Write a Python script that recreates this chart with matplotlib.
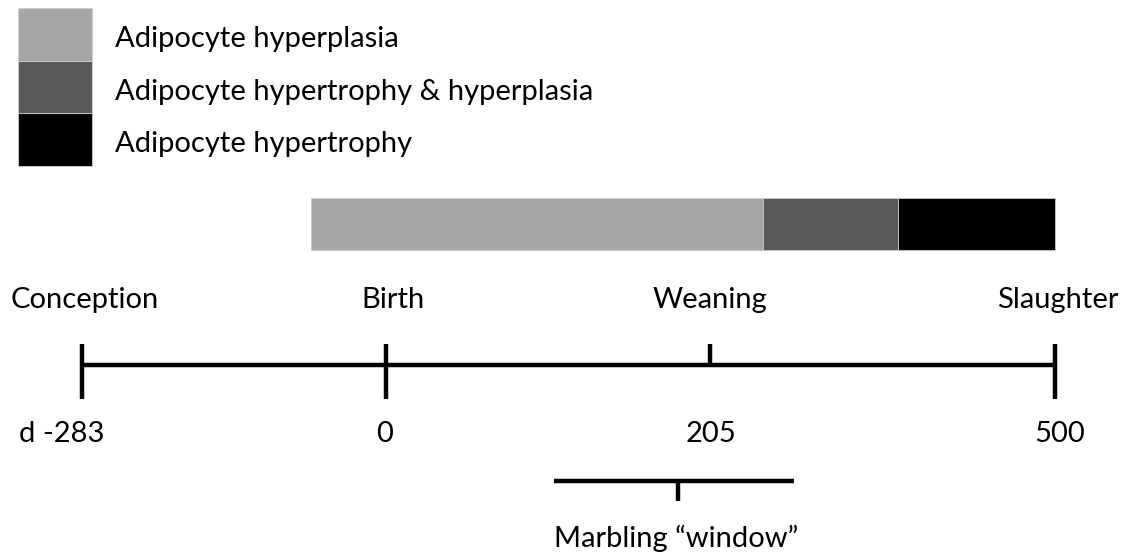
# adipocyte_timeline.py
# Timeline of bovine adipocyte development with phase bar and marbling window.

import numpy as np
import matplotlib
matplotlib.use("Agg")
import matplotlib.pyplot as plt
from matplotlib.patches import Rectangle

# ---- data ----
event_labels = ["Conception", "Birth", "Weaning", "Slaughter"]
event_days = [-283, 0, 205, 500]
day_labels = ["d -283", "0", "205", "500"]
full_tick = [True, True, False, True]

phase_labels = ["Adipocyte hyperplasia",
                "Adipocyte hypertrophy & hyperplasia",
                "Adipocyte hypertrophy"]
phase_start = [-70, 250, 366]
phase_end = [250, 366, 500]
phase_colors = ["#a6a6a6", "#595959", "#000000"]

marbling_start = 106
marbling_end = 277
marbling_mid = 185
marbling_label = "Marbling \u201cwindow\u201d"

# ---- piecewise day -> pixel scale (drawing is not to scale) ----
ANCHOR_PX = np.array([82.0, 386.0, 710.0, 1055.0])
ANCHOR_DAYS = np.array(event_days, dtype=float)
W, H = 1124, 554


def day_to_px(d):
    d = np.asarray(d, dtype=float)
    out = np.interp(d, ANCHOR_DAYS, ANCHOR_PX)
    s0 = (ANCHOR_PX[1] - ANCHOR_PX[0]) / (ANCHOR_DAYS[1] - ANCHOR_DAYS[0])
    s1 = (ANCHOR_PX[-1] - ANCHOR_PX[-2]) / (ANCHOR_DAYS[-1] - ANCHOR_DAYS[-2])
    out = np.where(d < ANCHOR_DAYS[0], ANCHOR_PX[0] + (d - ANCHOR_DAYS[0]) * s0, out)
    out = np.where(d > ANCHOR_DAYS[-1], ANCHOR_PX[-1] + (d - ANCHOR_DAYS[-1]) * s1, out)
    return out


def px_to_day(p):
    p = np.asarray(p, dtype=float)
    out = np.interp(p, ANCHOR_PX, ANCHOR_DAYS)
    s0 = (ANCHOR_DAYS[1] - ANCHOR_DAYS[0]) / (ANCHOR_PX[1] - ANCHOR_PX[0])
    s1 = (ANCHOR_DAYS[-1] - ANCHOR_DAYS[-2]) / (ANCHOR_PX[-1] - ANCHOR_PX[-2])
    out = np.where(p < ANCHOR_PX[0], ANCHOR_DAYS[0] + (p - ANCHOR_PX[0]) * s0, out)
    out = np.where(p > ANCHOR_PX[-1], ANCHOR_DAYS[-1] + (p - ANCHOR_PX[-1]) * s1, out)
    return out


plt.rcParams["font.family"] = ["Lato", "DejaVu Sans"]
FS = 21

fig = plt.figure(figsize=(W / 100, H / 100), dpi=100)
ax = fig.add_axes([0, 0, 1, 1])
ax.set_xscale("function", functions=(day_to_px, px_to_day))
ax.set_xlim(float(px_to_day(0)), float(px_to_day(W)))
ax.set_ylim(H, 0)
ax.axis("off")

LW = 3.2

# legend (figure pixel coords for x)
legend_ax = fig.add_axes([0, 0, 1, 1], facecolor="none")
legend_ax.set_xlim(0, W)
legend_ax.set_ylim(H, 0)
legend_ax.axis("off")
for i, (lab, col) in enumerate(zip(phase_labels, phase_colors)):
    y0 = 8 + i * 52.7
    legend_ax.add_patch(Rectangle((18, y0), 74, 52.7, facecolor=col,
                                  edgecolor="#d0d0d0", lw=0.6))
    legend_ax.text(115, y0 + 31, lab, ha="left", va="center", fontsize=FS)

# phase bar
for s, e, col in zip(phase_start, phase_end, phase_colors):
    ax.add_patch(Rectangle((s, 198), e - s, 52, facecolor=col,
                           edgecolor="#c8c8c8", lw=0.6))

# main timeline
y_line = 365
ax.plot([event_days[0], event_days[-1]], [y_line, y_line], color="black",
        lw=LW, solid_capstyle="butt", zorder=3)
for d, full in zip(event_days, full_tick):
    y_bot = 399 if full else y_line
    ax.plot([d, d], [344, y_bot], color="black", lw=LW,
            solid_capstyle="butt", zorder=3)

# event names and day labels
name_dx = [3, 7, 0, 3]
day_dx = [-20, -1, 1, 5]
for d, name, dl, ndx, ddx in zip(event_days, event_labels, day_labels, name_dx, day_dx):
    ax.annotate(name, xy=(d, 300), xytext=(ndx, 0), textcoords="offset pixels",
                ha="center", va="center", fontsize=FS)
    ax.annotate(dl, xy=(d, 434), xytext=(ddx, 0), textcoords="offset pixels",
                ha="center", va="center", fontsize=FS)

# marbling window
ax.plot([marbling_start, marbling_end], [481, 481], color="black", lw=LW,
        solid_capstyle="butt")
ax.plot([marbling_mid, marbling_mid], [481, 501], color="black", lw=LW,
        solid_capstyle="butt")
ax.annotate(marbling_label, xy=(marbling_mid, 538), xytext=(-2, 0),
            textcoords="offset pixels", ha="center", va="center", fontsize=FS)

fig.savefig("out.png", dpi=100)
